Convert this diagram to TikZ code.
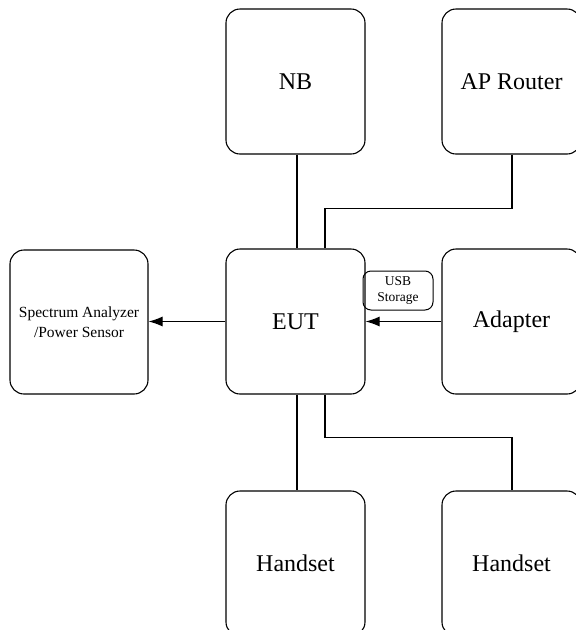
\documentclass[tikz,border=0pt]{standalone}
\usepackage{fontspec}
\setmainfont{Liberation Serif}
\usetikzlibrary{arrows.meta}
\tikzset{
  box/.style={draw=black, rectangle, rounded corners=14pt, line width=1.1pt,
    minimum width=139pt, minimum height=145pt, inner sep=0pt, align=center,
    font=\fontsize{24}{28}\selectfont},
  smallbox/.style={draw=black, rectangle, rounded corners=8pt, line width=1pt,
    minimum width=70pt, minimum height=39pt, inner sep=0pt, align=center,
    font=\fontsize{13.5}{16}\selectfont},
  wire/.style={line width=1.1pt, draw=black},
  arr/.style={wire, -{Latex[length=14pt,width=10pt]}}
}
\begin{document}
\begin{tikzpicture}[x=1pt,y=-1pt]
\clip (0,0) rectangle (576,630);
\fill[white] (0,0) rectangle (576,630);
\node[box] (nb) at (295.5,81.5) {NB};
\node[box] (ap) at (511.5,81.5) {AP Router};
\node[box, minimum width=138pt, minimum height=144pt, font=\fontsize{15.5}{20}\selectfont] (sa) at (79,322) {Spectrum Analyzer\\/Power Sensor};
\node[box] (eut) at (295.5,321.5) {EUT};
\node[box] (ad) at (511.5,321.5) {Adapter};
\node[box] (hs1) at (295.5,563.5) {Handset};
\node[box] (hs2) at (511.5,563.5) {Handset};
\node[smallbox] (usb) at (398,290.5) {USB\\Storage};
\draw[wire] ([xshift=1.5pt]nb.south) -- ([xshift=1.5pt]eut.north);
\draw[wire] ([xshift=0.5pt]ap.south) -- ++(0,54) -| ([xshift=29.5pt]eut.north);
\draw[wire] ([xshift=1.5pt]eut.south) -- ([xshift=1.5pt]hs1.north);
\draw[wire] ([xshift=29.5pt]eut.south) -- ++(0,43) -| ([xshift=0.5pt]hs2.north);
\draw[arr] (eut.west) -- (sa.east |- eut.west);
\draw[arr] (ad.west) -- (eut.east);
\end{tikzpicture}
\end{document}
